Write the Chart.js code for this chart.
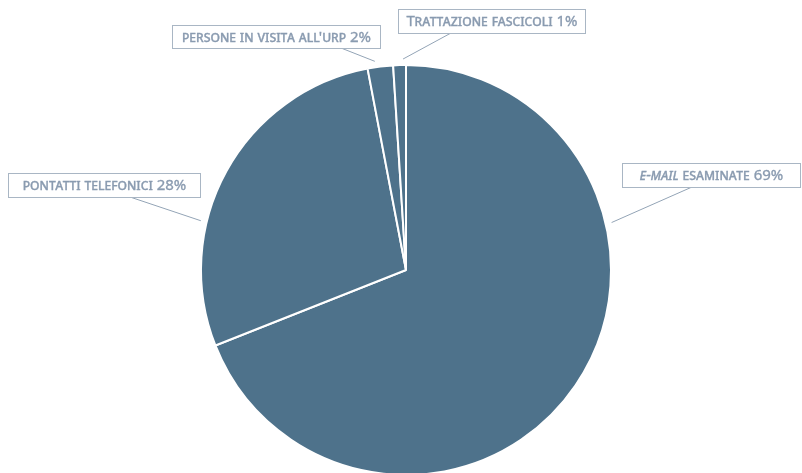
<!DOCTYPE html>
<html lang="it">
<head>
    <meta charset="UTF-8">
    <title>Attività URP</title>
    <script src="https://cdn.jsdelivr.net/npm/chart.js"></script>
    <style>
        html, body { margin: 0; padding: 0; background: #fff; overflow: hidden; }
        #wrap { width: 802px; height: 480px; }
    </style>
</head>
<body>
    <div id="wrap">
        <canvas id="myChart" width="802" height="480"></canvas>
    </div>

    <script>
        // data
        const categories = ['e-mail esaminate', 'pontatti telefonici', "persone in visita all'URP", 'Trattazione fascicoli'];
        const values = [69, 28, 2, 1];

        // callout boxes: box rect + angle (deg from top, clockwise) where the leader touches the pie
        const callouts = [
            { box: [622, 163, 178, 24], from: [692, 187], angle: 77, italicPart: 'e-mail' },
            { box: [8, 173, 192, 24], from: [130, 197], angle: 283.5 },
            { box: [172, 25, 208, 23], from: [341, 48], angle: 351.5 },
            { box: [398, 9, 187, 24], from: [451, 33], angle: 359.2 }
        ];

        const textColor = '#8a9bb0';
        const boxColor = '#a9b6c4';
        const lineColor = '#93a4b6';
        const fontFamily = "'Noto Sans', 'Open Sans', sans-serif";

        // split a label into [text, italic, allSmallCaps] pieces
        function pieces(label, italicPart) {
            const out = [];
            let rest = label;
            if (italicPart) {
                out.push([italicPart, true, false]);
                rest = label.slice(italicPart.length);
            }
            const m = rest.match(/^(.*?)([A-Z]{2,})$/);
            if (m) {
                out.push([m[1], false, false]);
                out.push([m[2], false, true]);
            } else {
                out.push([rest, false, false]);
            }
            return out;
        }

        const calloutPlugin = {
            id: 'callouts',
            afterDraw(chart) {
                const ctx = chart.ctx;
                const arc = chart.getDatasetMeta(0).data[0];
                const cx = arc.x, cy = arc.y, r = arc.outerRadius + 6;
                ctx.save();
                callouts.forEach((c, i) => {
                    const [bx, by, bw, bh] = c.box;
                    const a = c.angle * Math.PI / 180;
                    const px = cx + r * Math.sin(a);
                    const py = cy - r * Math.cos(a);

                    ctx.strokeStyle = lineColor;
                    ctx.lineWidth = 1;
                    ctx.beginPath();
                    ctx.moveTo(c.from[0], c.from[1]);
                    ctx.lineTo(px, py);
                    ctx.stroke();

                    ctx.fillStyle = '#fff';
                    ctx.fillRect(bx, by, bw, bh);
                    ctx.strokeStyle = boxColor;
                    ctx.strokeRect(bx + 0.5, by + 0.5, bw, bh);

                    const parts = pieces(categories[i], c.italicPart);
                    parts.push([' ' + values[i] + '%', false, false]);

                    ctx.fillStyle = textColor;
                    ctx.strokeStyle = textColor;
                    ctx.lineWidth = 0.35;
                    ctx.textBaseline = 'middle';
                    ctx.textAlign = 'left';
                    const setFont = p => {
                        ctx.font = (p[1] ? 'italic ' : '') + '15px ' + fontFamily;
                        ctx.fontVariantCaps = p[2] ? 'all-small-caps' : 'small-caps';
                    };
                    let total = 0;
                    parts.forEach(p => { setFont(p); total += ctx.measureText(p[0]).width; });
                    let x = bx + bw / 2 - total / 2 + 0.5;
                    const y = by + bh / 2 + 1;
                    parts.forEach(p => {
                        setFont(p);
                        ctx.fillText(p[0], x, y);
                        ctx.strokeText(p[0], x, y);
                        x += ctx.measureText(p[0]).width;
                    });
                });
                ctx.restore();
            }
        };

        const ctx = document.getElementById('myChart').getContext('2d');
        new Chart(ctx, {
            type: 'pie',
            data: {
                labels: categories,
                datasets: [{
                    data: values,
                    backgroundColor: '#4e728b',
                    borderColor: '#ffffff',
                    borderWidth: 2
                }]
            },
            options: {
                responsive: false,
                animation: false,
                layout: { padding: { top: 64, bottom: 4, left: 10, right: 0 } },
                plugins: {
                    legend: { display: false },
                    tooltip: { enabled: false }
                }
            },
            plugins: [calloutPlugin]
        });
    </script>
</body>
</html>
